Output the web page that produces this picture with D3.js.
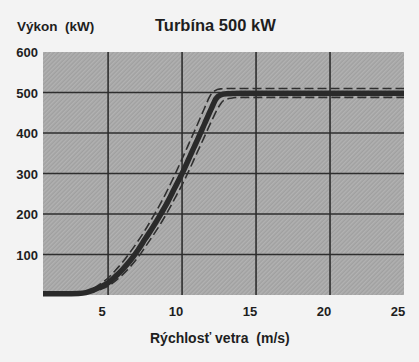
<!DOCTYPE html>
<head>
<style>
body { margin: 0; background: #f3f3f3; }
text { font-family: "Liberation Sans", Arial, sans-serif; font-weight: bold; fill: #1e1e1e; }
.grid line { stroke: #2e2e2e; stroke-width: 1.6px; }
</style>
<meta charset="utf-8">
<title></title>
</head>
<body>
<script src="https://d3js.org/d3.v7.min.js"></script>
<script>
// wind speed (m/s) / power (kW)
var solidSpeed = [0.6, 2, 3, 3.5, 4, 4.5, 5, 5.5, 6, 6.5, 7, 7.5, 8, 8.5, 9, 9.5, 10, 10.5, 11, 11.5, 12, 12.3, 12.6, 13, 14, 25];
var solidPower = [3, 3, 4, 6, 12, 20, 30, 46, 64, 85, 110, 138, 166, 196, 228, 264, 300, 340, 380, 421, 462, 485, 494, 497, 498, 498];

var upperSpeed = [3.2, 3.6, 4, 4.5, 5, 5.5, 6, 6.5, 7, 7.5, 8, 8.5, 9, 9.5, 10, 10.5, 11, 11.5, 11.9, 12.2, 12.6, 13.2, 25];
var upperPower = [4, 9, 16, 28, 42, 61, 82, 106, 132, 160, 191, 223, 258, 296, 336, 377, 418, 460, 492, 504, 509, 510, 510];

var lowerSpeed = [3.6, 4, 4.5, 5, 5.5, 6, 6.5, 7, 7.5, 8, 8.5, 9, 9.5, 10, 10.5, 11, 11.5, 12, 12.5, 12.8, 13.3, 14, 25];
var lowerPower = [4, 8, 14, 22, 35, 51, 70, 92, 118, 145, 173, 204, 238, 272, 310, 350, 390, 430, 466, 480, 486, 488, 488];

var xTicks = [5, 10, 15, 20, 25];
var yTicks = [100, 200, 300, 400, 500, 600];

var width = 419, height = 362;
var pLeft = 43, pRight = 404, pTop = 52, pBottom = 295;

var svg = d3.select("body").append("svg")
    .attr("width", width)
    .attr("height", height);

// textured grey plot background
var defs = svg.append("defs");
var pat = defs.append("pattern")
    .attr("id", "hatch")
    .attr("width", 3).attr("height", 3)
    .attr("patternUnits", "userSpaceOnUse")
    .attr("patternTransform", "rotate(45)");
pat.append("rect").attr("width", 3).attr("height", 3).attr("fill", "#a9a9a9");
pat.append("line").attr("x1", 0).attr("y1", 0).attr("x2", 0).attr("y2", 3)
    .attr("stroke", "#979797").attr("stroke-width", 1);
pat.append("line").attr("x1", 1.5).attr("y1", 0).attr("x2", 1.5).attr("y2", 3)
    .attr("stroke", "#b6b6b6").attr("stroke-width", 0.7);

var x = d3.scaleLinear().domain([0.6, 25]).range([pLeft, pRight]);
var y = d3.scaleLinear().domain([0, 600]).range([pBottom, pTop]);

svg.append("rect")
    .attr("x", pLeft).attr("y", pTop)
    .attr("width", pRight - pLeft).attr("height", pBottom - pTop)
    .attr("fill", "url(#hatch)");

// grid
var grid = svg.append("g").attr("class", "grid");
grid.selectAll(".v").data(xTicks.filter(d => d < 25)).enter().append("line")
    .attr("x1", d => x(d)).attr("x2", d => x(d))
    .attr("y1", pTop).attr("y2", pBottom);
grid.selectAll(".h").data(yTicks.filter(d => d < 600)).enter().append("line")
    .attr("x1", pLeft).attr("x2", pRight)
    .attr("y1", d => y(d)).attr("y2", d => y(d));

// tick labels
svg.selectAll(".xl").data(xTicks).enter().append("text")
    .attr("x", d => x(d) - 6).attr("y", 316)
    .attr("text-anchor", "middle")
    .style("font-size", "13px")
    .text(d => d);
svg.selectAll(".yl").data(yTicks).enter().append("text")
    .attr("x", 38).attr("y", d => y(d) + 5)
    .attr("text-anchor", "end")
    .style("font-size", "13px")
    .text(d => d);

// curves
var line = d3.line().curve(d3.curveMonotoneX);
function pts(xs, ys) { return xs.map((v, i) => [x(v), y(ys[i])]); }

svg.append("path")
    .attr("d", line(pts(upperSpeed, upperPower)))
    .attr("fill", "none").attr("stroke", "#2f2f2f")
    .attr("stroke-width", 1.6).attr("stroke-dasharray", "9,4");
svg.append("path")
    .attr("d", line(pts(lowerSpeed, lowerPower)))
    .attr("fill", "none").attr("stroke", "#2f2f2f")
    .attr("stroke-width", 1.6).attr("stroke-dasharray", "9,4");
svg.append("path")
    .attr("d", line(pts(solidSpeed, solidPower)))
    .attr("fill", "none").attr("stroke", "#2a2a2a")
    .attr("stroke-width", 5.5);

// titles
svg.append("text").attr("x", 17).attr("y", 31)
    .style("font-size", "13.5px").attr("xml:space", "preserve")
    .text("Výkon  (kW)");
svg.append("text").attr("x", 155).attr("y", 31)
    .style("font-size", "16.5px")
    .text("Turbína 500 kW");
svg.append("text").attr("x", 150).attr("y", 343)
    .style("font-size", "14px").attr("xml:space", "preserve")
    .text("Rýchlosť vetra  (m/s)");
</script>
</body>
</html>
